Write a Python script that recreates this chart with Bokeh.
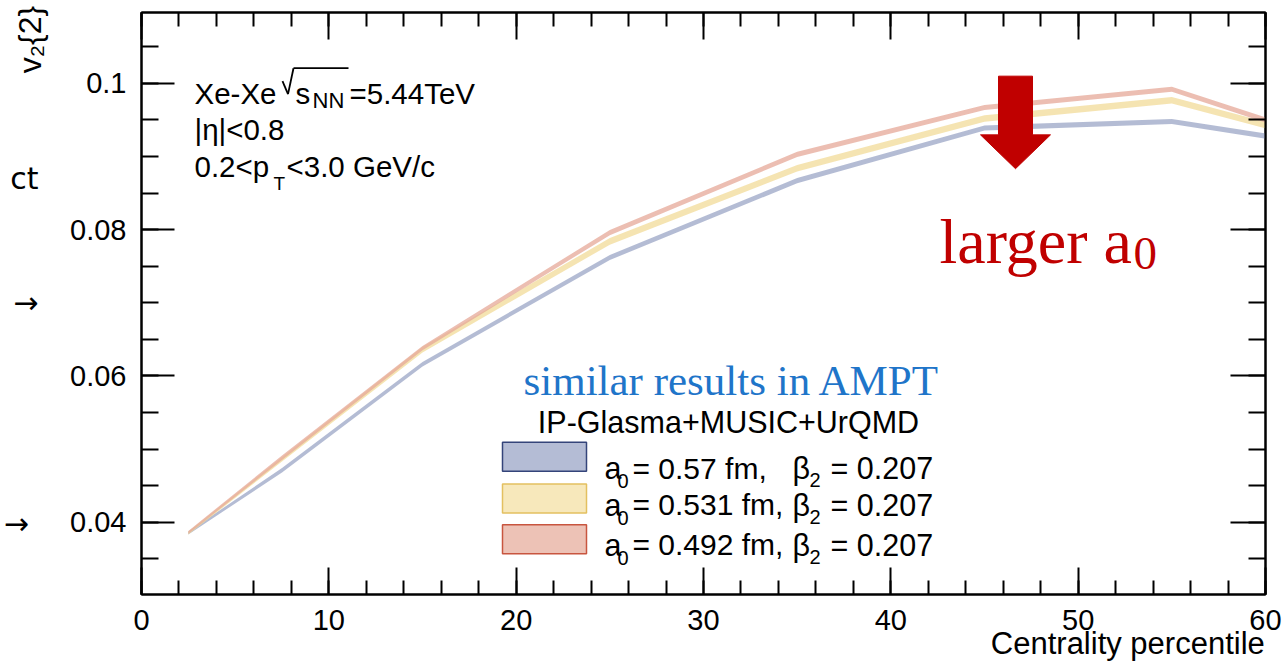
import math
from bokeh.plotting import figure
from bokeh.models import (Label, BoxAnnotation, PolyAnnotation, FixedTicker, LinearAxis,
                          ColumnDataSource, Arrow)
from bokeh.embed import file_html
from bokeh.resources import INLINE

# ---------------- data ----------------
centrality = [2.5, 7.5, 15, 25, 35, 45, 55, 65]
v2_a0_057 = [0.0385, 0.0471, 0.0616, 0.0762, 0.0867, 0.0939, 0.0948, 0.0908]
err_a0_057 = [0.0002, 0.0003, 0.0003, 0.00035, 0.00035, 0.00035, 0.00035, 0.00035]
v2_a0_0531 = [0.0385, 0.0486, 0.0636, 0.0784, 0.0884, 0.0952, 0.0977, 0.0909]
err_a0_0531 = [0.0002, 0.0003, 0.0004, 0.00045, 0.00045, 0.00045, 0.00045, 0.00045]
v2_a0_0492 = [0.0386, 0.0488, 0.0638, 0.0796, 0.0903, 0.0967, 0.0992, 0.0908]
err_a0_0492 = [0.0002, 0.0003, 0.0003, 0.00035, 0.00035, 0.00035, 0.00035, 0.00035]

x_major = [0, 10, 20, 30, 40, 50, 60]
x_tick_labels = ["0", "10", "20", "30", "40", "50", "60"]
x_minor = [0, 2, 4, 6, 8, 10, 12, 14, 16, 18, 20, 22, 24, 26, 28, 30, 32, 34, 36, 38,
           40, 42, 44, 46, 48, 50, 52, 54, 56, 58, 60]
y_major = [0.04, 0.06, 0.08, 0.1]
y_tick_labels = ["0.04", "0.06", "0.08", "0.1"]
y_minor = [0.035, 0.04, 0.045, 0.05, 0.055, 0.06, 0.065, 0.07, 0.075, 0.08, 0.085,
           0.09, 0.095, 0.1, 0.105]

series_labels = ["0.57", "0.531", "0.492"]
x_title = "Centrality percentile"
y_title = "v\u2082{2}"
fragments = ["ct", "\u2192", "\u2192\u00a0"]
fragment_pos = [0.0870, 0.0701, 0.0398]

X_MIN, X_MAX = 0, 60
Y_MIN, Y_MAX = 0.0301, 0.1097

W, H = 1287, 663
# frame edges in page pixels
FL, FR, FT, FB = 141, 1265, 12, 597


def dx(px):
    return X_MIN + (px - FL) * (X_MAX - X_MIN) / (FR - FL)


def dy(py):
    return Y_MAX - (py - FT) * (Y_MAX - Y_MIN) / (FB - FT)


SANS = "Liberation Sans"
SERIF = "Liberation Serif"

p = figure(width=W, height=H, x_range=(X_MIN, X_MAX), y_range=(Y_MIN, Y_MAX),
           output_backend="svg", toolbar_location=None,
           min_border_left=FL, min_border_right=W - FR,
           min_border_top=FT, min_border_bottom=H - FB)
p.xgrid.visible = False
p.ygrid.visible = False
p.background_fill_color = "white"
p.border_fill_color = "white"
p.outline_line_color = "black"
p.outline_line_width = 2

# ---------------- bands ----------------
band_fill = ["#9ba6c6", "#f2db98", "#e6a898"]
series = [(v2_a0_057, err_a0_057), (v2_a0_0531, err_a0_0531), (v2_a0_0492, err_a0_0492)]
for (vals, errs), col in zip(series, band_fill):
    src = ColumnDataSource(dict(x=centrality,
                                lo=[v - e for v, e in zip(vals, errs)],
                                hi=[v + e for v, e in zip(vals, errs)]))
    p.varea(x="x", y1="lo", y2="hi", source=src, fill_color=col, fill_alpha=0.75)


# ---------------- axes ----------------
def style_axis(ax, major, minor, tick_in, minor_in, labels=None, size="29px"):
    ax.ticker = FixedTicker(ticks=major, minor_ticks=minor)
    ax.axis_line_width = 2
    ax.axis_line_color = "black"
    ax.major_tick_line_width = 2
    ax.minor_tick_line_width = 2
    ax.major_tick_in = tick_in
    ax.major_tick_out = 0
    ax.minor_tick_in = minor_in
    ax.minor_tick_out = 0
    ax.major_label_text_font = SANS
    ax.major_label_text_color = "black"
    if labels is None:
        ax.major_label_overrides = {float(t): "" for t in major}
        ax.major_label_text_font_size = "1px"
        ax.major_label_standoff = 0
    else:
        ax.major_label_overrides = {float(t): s for t, s in zip(major, labels)}
        ax.major_label_text_font_size = size


def text_axis(ax, ticks, labels, size, standoff, orientation="horizontal", font=SANS):
    """An axis that only carries text outside the frame (no line, no ticks)."""
    ax.ticker = FixedTicker(ticks=ticks, minor_ticks=[])
    ax.axis_line_alpha = 0
    ax.major_tick_line_alpha = 0
    ax.minor_tick_line_alpha = 0
    ax.major_tick_in = 0
    ax.major_tick_out = 0
    ax.minor_tick_in = 0
    ax.minor_tick_out = 0
    ax.major_label_overrides = {float(t): s for t, s in zip(ticks, labels)}
    ax.major_label_text_font = font
    ax.major_label_text_font_size = size
    ax.major_label_text_color = "black"
    ax.major_label_standoff = standoff
    ax.major_label_orientation = orientation


xax = p.xaxis[0]
style_axis(xax, x_major, x_minor, 27, 14, x_tick_labels)
xax.major_label_standoff = 15
yax = p.yaxis[0]
style_axis(yax, y_major, y_minor, 33, 17, y_tick_labels)
yax.major_label_standoff = 15

top_ax = LinearAxis()
style_axis(top_ax, x_major, x_minor, 27, 14)
p.add_layout(top_ax, "above")
right_ax = LinearAxis()
style_axis(right_ax, y_major, y_minor, 35, 17)
p.add_layout(right_ax, "right")

# x title (right aligned under the axis)
xt_ax = LinearAxis()
text_axis(xt_ax, [52.65], [x_title], "31px", -7)
p.add_layout(xt_ax, "below")
# y title (vertical, at the top of the left side)
yt_ax = LinearAxis()
text_axis(yt_ax, [0.106], [y_title], "32px", 19, "vertical")
p.add_layout(yt_ax, "left")
# fragments of the slide at the left edge
frag_ax = LinearAxis()
text_axis(frag_ax, fragment_pos, fragments, "30px", -29, font="DejaVu Sans")
p.add_layout(frag_ax, "left")


def lab(xp, yp, text, size, font=SANS, color="black", align="left", angle=0.0):
    p.add_layout(Label(x=dx(xp), y=dy(yp), text=text, text_font=font,
                       text_font_size=f"{size}px", text_color=color,
                       text_align=align, text_baseline="alphabetic", angle=angle))


def stroke(x0, y0, x1, y1, w=2.0, color="black"):
    p.add_layout(Arrow(x_start=dx(x0), y_start=dy(y0), x_end=dx(x1), y_end=dy(y1),
                       start=None, end=None, line_color=color, line_width=w))


# ---------------- info text ----------------
lab(194, 93, "Xe-Xe", 29.5)
stroke(282, 81, 287.5, 94, 1.8)
stroke(287.5, 94, 293, 68, 1.8)
stroke(293, 68, 348, 68, 1.8)
lab(295, 93, "s", 29.5)
lab(312, 100, "NN", 22)
lab(349, 93, "=5.44TeV", 29.5)
lab(194, 130, "|\u03b7|<0.8", 29.5)
lab(194, 167, "0.2<p", 29.5)
lab(273, 184, "T", 19)
lab(286, 167, "<3.0 GeV/c", 29.5)

# ---------------- annotations ----------------
lab(523, 382, "similar results in AMPT", 43, font=SERIF, color="#1f75c9")
lab(939, 242, "larger a", 64, font=SERIF, color="#c00000")
lab(1133, 254, "0", 47, font=SERIF, color="#c00000")
arrow_px = [(998, 76), (1032, 76), (1032, 135), (1050, 135), (1015, 169), (980, 135), (998, 135)]
p.add_layout(PolyAnnotation(xs=[dx(a) for a, b in arrow_px], ys=[dy(b) for a, b in arrow_px],
                            fill_color="#c00000", fill_alpha=1, line_color="#c00000",
                            line_alpha=1, line_width=1))

# ---------------- legend ----------------
lab(728, 424, "IP-Glasma+MUSIC+UrQMD", 30.5, align="center")
box_fill = ["#b4bcd5", "#f7e8bb", "#edc2b6"]
box_line = ["#34447a", "#e3c060", "#c8553f"]
row_top = [444, 486, 527]
row_base = [470, 507, 547]
for i, a0 in enumerate(series_labels):
    t = row_top[i]
    p.add_layout(BoxAnnotation(left=dx(502), right=dx(586), top=dy(t), bottom=dy(t + 29),
                               fill_color=box_fill[i], fill_alpha=1,
                               line_color=box_line[i], line_alpha=1, line_width=1.5))
    b = row_base[i]
    lab(604, b, "a", 30.5)
    lab(617, b + 13, "0", 20)
    lab(632, b, f"= {a0} fm,", 30)
    lab(792, b, "\u03b2", 30.5)
    lab(809, b + 12, "2", 20)
    lab(830, b, "= 0.207", 30.5)

open("out.html", "w").write(file_html(p, INLINE))
